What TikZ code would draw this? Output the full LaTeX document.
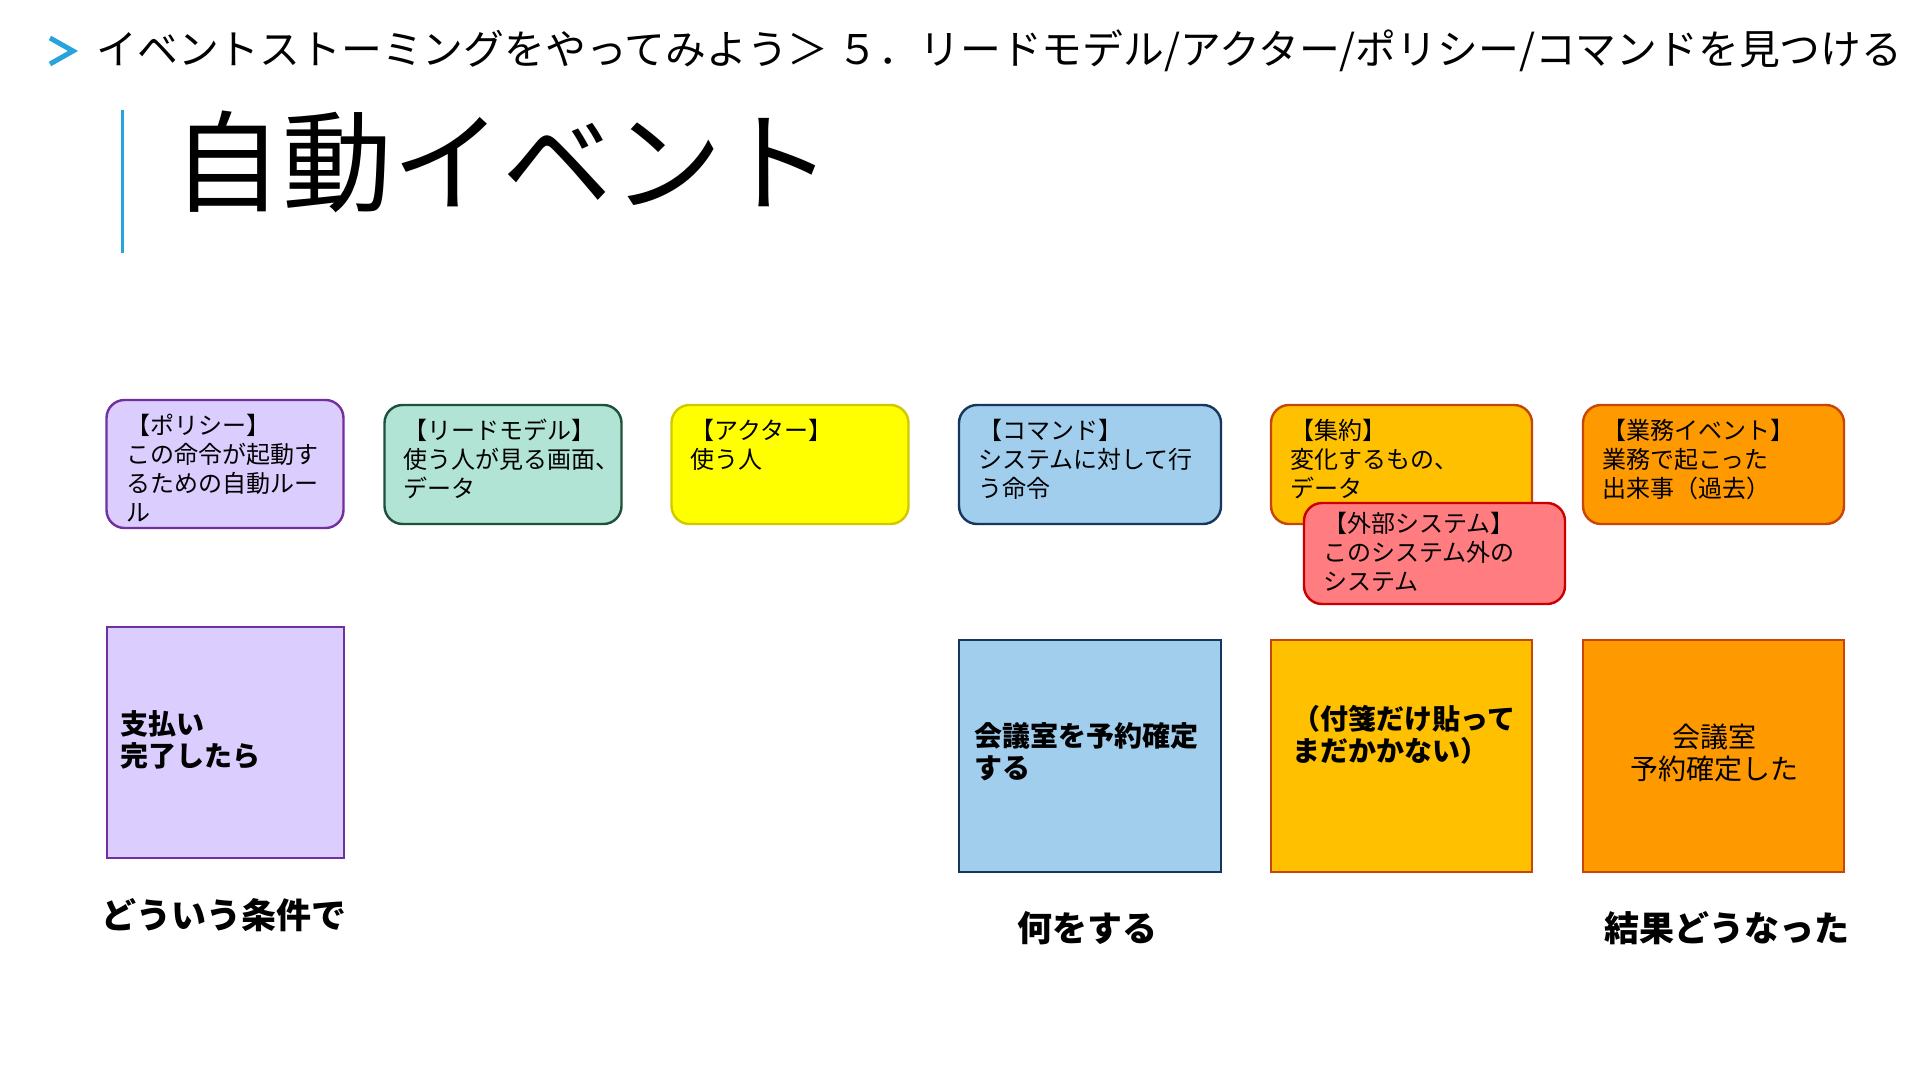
\documentclass[tikz,border=0pt]{standalone}
\usepackage{fontspec}
\setmainfont{Noto Sans CJK JP}
\definecolor{accent}{RGB}{41,163,220}
\definecolor{polfill}{RGB}{220,205,255}
\definecolor{polline}{RGB}{112,48,160}
\definecolor{readfill}{RGB}{178,228,213}
\definecolor{readline}{RGB}{30,80,60}
\definecolor{actfill}{RGB}{255,255,0}
\definecolor{actline}{RGB}{210,200,0}
\definecolor{cmdfill}{RGB}{162,206,238}
\definecolor{cmdline}{RGB}{22,54,92}
\definecolor{aggfill}{RGB}{255,192,0}
\definecolor{aggline}{RGB}{196,70,10}
\definecolor{extfill}{RGB}{255,124,128}
\definecolor{extline}{RGB}{200,0,0}
\definecolor{evtfill}{RGB}{255,153,0}
\definecolor{evtline}{RGB}{200,70,10}
\tikzset{
  note/.style={draw, rounded corners=9pt, line width=1.2pt, inner sep=0pt},
  card/.style={draw, line width=1pt, inner sep=0pt},
  ntext/.style={anchor=north west, inner sep=0pt, align=left, font=\fontsize{12}{14.5}\selectfont, text=black},
  ctext/.style={inner sep=0pt, align=left, font=\bfseries\fontsize{14}{16}\selectfont, text=black},
  lbl/.style={inner sep=0pt, font=\bfseries\fontsize{17.5}{20}\selectfont, text=black},
}
\begin{document}
\begin{tikzpicture}[x=0.5pt, y=-0.5pt]
\useasboundingbox (0,0) rectangle (1920,1080);
\fill[white] (0,0) rectangle (1920,1080);
% header
\draw[accent, line width=2.5pt] (50,38) -- (73,51) -- (50,64);
\node[anchor=west, inner sep=0pt, font=\fontsize{20.4}{23}\selectfont] (hdr) at (96,51) {イベントストーミングをやってみよう＞ ５．リードモデル/アクター/ポリシー/コマンドを見つける};
% title
\draw[accent, line width=1.5pt] (122,110) -- (122,253);
\node[anchor=west, inner sep=0pt, font=\fontsize{55}{60}\selectfont] (title) at (172,162) {自動イベント};
% top notes
\node[note, fill=polfill, draw=polline, minimum width=118.5pt, minimum height=64pt] (polT) at (225,464) {};
\node[ntext] (polTt) at ([xshift=10.5pt,yshift=-7.5pt]polT.north west) {【ポリシー】\\この命令が起動す\\るための自動ルー\\ル};
\node[note, fill=readfill, draw=readline, minimum width=118.5pt, minimum height=59.5pt] (readT) at (503,464.5) {};
\node[ntext] (readTt) at ([xshift=10pt,yshift=-7.5pt]readT.north west) {【リードモデル】\\使う人が見る画面、\\データ};
\node[note, fill=actfill, draw=actline, minimum width=118.5pt, minimum height=59.5pt] (actT) at (790,464.5) {};
\node[ntext] (actTt) at ([xshift=10pt,yshift=-7.5pt]actT.north west) {【アクター】\\使う人};
\node[note, fill=cmdfill, draw=cmdline, minimum width=131pt, minimum height=59.5pt] (cmdT) at (1090,464.5) {};
\node[ntext] (cmdTt) at ([xshift=10pt,yshift=-7.5pt]cmdT.north west) {【コマンド】\\システムに対して行\\う命令};
\node[note, fill=aggfill, draw=aggline, minimum width=130.5pt, minimum height=59.5pt] (aggT) at (1401.5,464.5) {};
\node[ntext] (aggTt) at ([xshift=10pt,yshift=-7.5pt]aggT.north west) {【集約】\\変化するもの、\\データ};
\node[note, fill=evtfill, draw=evtline, minimum width=130.5pt, minimum height=59.5pt] (evtT) at (1713.5,464.5) {};
\node[ntext] (evtTt) at ([xshift=10pt,yshift=-7.5pt]evtT.north west) {【業務イベント】\\業務で起こった\\出来事（過去）};
\node[note, fill=extfill, draw=extline, minimum width=130.5pt, minimum height=50.5pt] (extT) at (1434.5,553.5) {};
\node[ntext] (extTt) at ([xshift=10pt,yshift=-5pt]extT.north west) {【外部システム】\\このシステム外の\\システム};
% bottom cards
\node[card, fill=polfill, draw=polline, minimum width=118.5pt, minimum height=115.5pt] (polB) at (225,742.5) {};
\node[ctext, anchor=west] (polBt) at (120,740) {支払い\\完了したら};
\node[card, fill=cmdfill, draw=cmdline, minimum width=131pt, minimum height=116pt] (cmdB) at (1090,756) {};
\node[ctext, anchor=west] (cmdBt) at (974,752) {会議室を予約確定\\する};
\node[card, fill=aggfill, draw=aggline, minimum width=130.5pt, minimum height=116pt] (aggB) at (1401.5,756) {};
\node[ctext, anchor=west] (aggBt) at (1292,735) {（付箋だけ貼って\\まだかかない）};
\node[card, fill=evtfill, draw=evtline, minimum width=130.5pt, minimum height=116pt] (evtB) at (1713.5,756) {};
\node[inner sep=0pt, align=center, font=\fontsize{14}{16}\selectfont] (evtBt) at (1714,753) {会議室\\予約確定した};
% labels
\node[lbl] (l1) at (224,915) {どういう条件で};
\node[lbl] (l2) at (1087,928) {何をする};
\node[lbl] (l3) at (1727,928) {結果どうなった};
\end{tikzpicture}
\end{document}
